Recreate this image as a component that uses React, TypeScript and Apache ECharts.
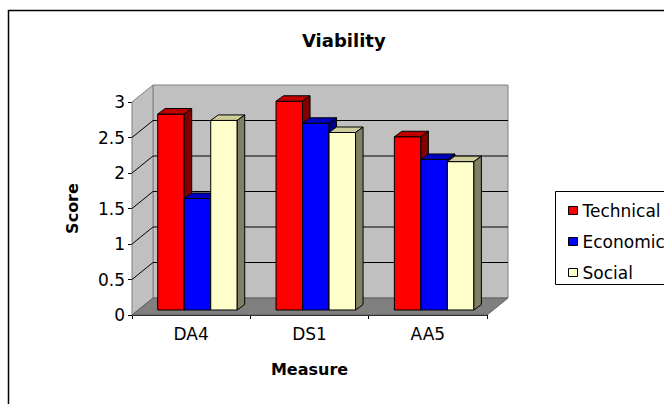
import React, { useEffect, useRef } from "react";
import * as echarts from "echarts";

const categories = ["DA4", "DS1", "AA5"];
const technical = [2.76, 2.94, 2.44];
const economic = [1.57, 2.63, 2.12];
const social = [2.67, 2.5, 2.09];
const seriesNames = ["Technical", "Economic", "Social"];

const Y_MIN = 0;
const Y_MAX = 3;
const Y_STEP = 0.5;

const FONT = "DejaVu Sans";

// 3D geometry (pixels)
const DX = 21;
const DY = -17;
const FX = 6.3;
const FY = -5;
const BDX = 7.5;
const BDY = -5.5;
const BAR_RATIO = 0.224;

const faceColors = [
  { front: "#ff0000", top: "#c00000", side: "#800000" },
  { front: "#0000ff", top: "#0000c0", side: "#000080" },
  { front: "#ffffcc", top: "#cccc99", side: "#808066" },
];

function wallRender(params: any, api: any) {
  const cs = params.coordSys;
  const x0 = cs.x;
  const x1 = cs.x + cs.width;
  const y0 = api.coord([0, Y_MIN])[1];
  const yT = api.coord([0, Y_MAX])[1];
  const children: any[] = [];
  children.push({
    type: "polygon",
    shape: { points: [[x0 + DX, yT + DY], [x1 + DX, yT + DY], [x1 + DX, y0 + DY], [x0 + DX, y0 + DY]] },
    style: { fill: "#c0c0c0", stroke: "#808080", lineWidth: 1 },
  });
  children.push({
    type: "polygon",
    shape: { points: [[x0, yT], [x0 + DX, yT + DY], [x0 + DX, y0 + DY], [x0, y0]] },
    style: { fill: "#c0c0c0", stroke: "#808080", lineWidth: 1 },
  });
  children.push({
    type: "polygon",
    shape: { points: [[x0, y0], [x1, y0], [x1 + DX, y0 + DY], [x0 + DX, y0 + DY]] },
    style: { fill: "#808080", stroke: "#606060", lineWidth: 1 },
  });
  for (let v = Y_MIN + Y_STEP; v < Y_MAX - 1e-9; v += Y_STEP) {
    const y = api.coord([0, v])[1];
    children.push({
      type: "line",
      shape: { x1: x0 + DX, y1: y + DY, x2: x1 + DX, y2: y + DY },
      style: { stroke: "#000", lineWidth: 1 },
    });
    children.push({
      type: "line",
      shape: { x1: x0, y1: y, x2: x0 + DX, y2: y + DY },
      style: { stroke: "#000", lineWidth: 1 },
    });
  }
  return { type: "group", children };
}

function makeBarRender(si: number) {
  const c = faceColors[si];
  return (params: any, api: any) => {
    const cat = api.value(0);
    const val = api.value(1);
    const base = api.coord([cat, 0]);
    const top = api.coord([cat, val]);
    const band = api.size([1, 0])[0];
    const bw = band * BAR_RATIO;
    const x = base[0] - 1.5 * bw + si * bw + FX;
    const yb = base[1] + FY;
    const yt = top[1] + FY;
    return {
      type: "group",
      children: [
        {
          type: "rect",
          shape: { x, y: yt, width: bw, height: yb - yt },
          style: { fill: c.front, stroke: "#000", lineWidth: 1 },
        },
        {
          type: "polygon",
          shape: { points: [[x, yt], [x + BDX, yt + BDY], [x + bw + BDX, yt + BDY], [x + bw, yt]] },
          style: { fill: c.top, stroke: "#000", lineWidth: 1 },
        },
        {
          type: "polygon",
          shape: { points: [[x + bw, yt], [x + bw + BDX, yt + BDY], [x + bw + BDX, yb + BDY], [x + bw, yb]] },
          style: { fill: c.side, stroke: "#000", lineWidth: 1 },
        },
      ],
    };
  };
}

export default function App() {
  const ref = useRef<HTMLDivElement>(null);
  useEffect(() => {
    if (!ref.current) return;
    const chart = echarts.init(ref.current, null, { renderer: "svg" });
    const allSeries = [technical, economic, social];
    const option: any = {
      animation: false,
      backgroundColor: "#ffffff",
      title: {
        text: "Viability",
        left: 297,
        top: 26,
        textStyle: { fontFamily: FONT, fontSize: 18, fontWeight: "bold", color: "#000" },
      },
      grid: { left: 132, right: 177, top: 102, bottom: 89, containLabel: false, outerBoundsMode: "none" },
      xAxis: {
        type: "category",
        data: categories,
        axisLine: { show: true, lineStyle: { color: "#000", width: 1 } },
        axisTick: { show: true, length: 4, lineStyle: { color: "#000" } },
        axisLabel: { fontFamily: FONT, fontSize: 17, color: "#000", margin: 10 },
        splitLine: { show: false },
        name: "Measure",
        nameLocation: "middle",
        nameGap: 46,
        nameTextStyle: { fontFamily: FONT, fontSize: 16, fontWeight: "bold", color: "#000" },
      },
      yAxis: {
        type: "value",
        min: Y_MIN,
        max: Y_MAX,
        interval: Y_STEP,
        axisLine: { show: true, lineStyle: { color: "#000", width: 1 } },
        axisTick: { show: true, length: 4, lineStyle: { color: "#000" } },
        axisLabel: { fontFamily: FONT, fontSize: 17, color: "#000", margin: 7 },
        splitLine: { show: false },
        name: "Score",
        nameLocation: "middle",
        nameGap: 52,
        nameRotate: 90,
        nameTextStyle: { fontFamily: FONT, fontSize: 16, fontWeight: "bold", color: "#000" },
      },
      legend: {
        orient: "vertical",
        left: 563,
        top: 197,
        itemWidth: 9,
        itemHeight: 8,
        itemGap: 14,
        icon: "rect",
        textStyle: { fontFamily: FONT, fontSize: 17, color: "#000" },
        data: seriesNames.map((n, i) => ({
          name: n,
          icon: "rect",
          itemStyle: { color: faceColors[i].front, borderColor: "#000", borderWidth: 1 },
        })),
      },
      graphic: [
        {
          type: "rect",
          shape: { x: 8.5, y: 10.5, width: 720, height: 500 },
          style: { fill: "none", stroke: "#000", lineWidth: 1.5 },
          silent: true,
          z: 100,
        },
        {
          type: "rect",
          shape: { x: 555.5, y: 191.5, width: 140, height: 93 },
          style: { fill: "none", stroke: "#000", lineWidth: 1 },
          silent: true,
          z: 100,
        },
      ],
      series: [
        {
          type: "custom",
          name: "wall",
          renderItem: wallRender,
          data: [[0, 0]],
          clip: false,
          silent: true,
          z: 1,
        },
        ...seriesNames.map((n, i) => ({
          type: "custom",
          name: n,
          renderItem: makeBarRender(i),
          data: allSeries[i].map((v, k) => [k, v]),
          encode: { x: 0, y: 1 },
          clip: false,
          itemStyle: { color: faceColors[i].front },
          z: 2,
        })),
      ],
    };
    chart.setOption(option);
    return () => chart.dispose();
  }, []);
  return (
    <div
      ref={ref}
      style={{ position: "fixed", left: 0, top: 0, width: 664, height: 404 }}
    />
  );
}
